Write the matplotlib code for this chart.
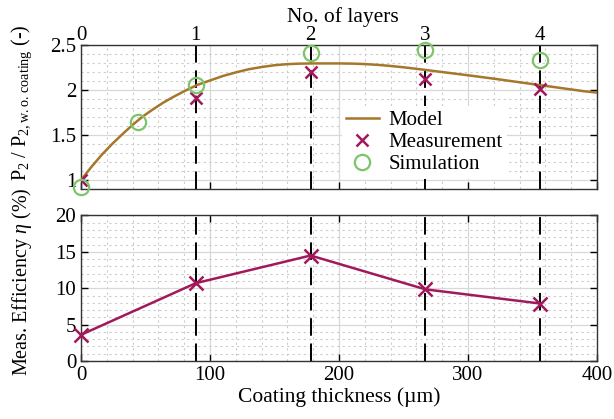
import matplotlib
matplotlib.use("Agg")
import matplotlib.pyplot as plt
from matplotlib.ticker import MultipleLocator

plt.rcParams['font.family'] = ['Liberation Serif', 'DejaVu Serif']
plt.rcParams['mathtext.fontset'] = 'custom'
plt.rcParams['mathtext.rm'] = 'Liberation Serif'
plt.rcParams['mathtext.it'] = 'Liberation Serif:italic'
plt.rcParams['font.size'] = 15

# ---- data ----
layer_thickness = [0, 89, 178, 267, 356]
layer_labels = ['0', '1', '2', '3', '4']

model_x = [0, 8, 16, 24, 32, 40, 48, 56, 64, 72, 80, 90, 100, 110, 120, 130, 140,
           150, 160, 170, 180, 190, 200, 210, 220, 230, 240, 250, 260, 270, 280,
           290, 300, 310, 320, 330, 340, 350, 360, 370, 380, 390, 400]
model_y = [1.0, 1.145, 1.28, 1.40, 1.51, 1.615, 1.71, 1.79, 1.865, 1.93, 1.99,
           2.06, 2.11, 2.16, 2.20, 2.235, 2.26, 2.28, 2.292, 2.298, 2.30, 2.30,
           2.30, 2.298, 2.293, 2.284, 2.272, 2.257, 2.24, 2.222, 2.204, 2.186,
           2.168, 2.149, 2.13, 2.11, 2.09, 2.07, 2.05, 2.03, 2.01, 1.99, 1.975]

meas_x = [0, 89, 178, 267, 356]
meas_ratio = [1.0, 1.92, 2.21, 2.13, 2.02]

sim_x = [0, 44, 89, 178, 267, 356]
sim_ratio = [0.92, 1.65, 2.06, 2.42, 2.45, 2.34]

meas_eff = [3.6, 10.7, 14.5, 9.85, 7.9]

c_model = '#A6772A'
c_meas = '#A2195B'
c_sim = '#7EC46A'

fig = plt.figure(figsize=(6.14, 4.19), dpi=100)
ax1 = fig.add_axes([81/614, 1-189/419, 516/614, (189-45.5)/419])
ax2 = fig.add_axes([81/614, 1-361/419, 516/614, (361-215.5)/419])

def style(ax):
    ax.set_xlim(0, 400)
    ax.xaxis.set_major_locator(MultipleLocator(100))
    ax.xaxis.set_minor_locator(MultipleLocator(20))
    ax.grid(True, which='major', color='#D8D8D8', lw=0.9, ls='-')
    ax.grid(True, which='minor', color='#CCCCCC', lw=0.8, ls=(0, (2, 3)))
    ax.set_axisbelow(True)
    ax.tick_params(which='major', direction='in', length=5, width=1.0,
                   top=True, right=True, labelsize=15)
    ax.tick_params(which='minor', length=0)
    for s in ax.spines.values():
        s.set_linewidth(1.0)
        s.set_color('#333333')
    for xv in layer_thickness[1:]:
        ax.axvline(xv, color='black', lw=1.4, dashes=(9, 4), zorder=1.5)

style(ax1)
style(ax2)

ax1.set_ylim(0.9, 2.5)
ax1.yaxis.set_minor_locator(MultipleLocator(0.1))
ax1.set_yticks([1, 1.5, 2, 2.5])
ax1.set_yticklabels(['1', '1.5', '2', '2.5'])
ax1.tick_params(labelbottom=False)

ax1.plot(model_x, model_y, color=c_model, lw=1.8, label='Model', zorder=3)
ax1.plot(meas_x, meas_ratio, ls='none', marker='x', ms=9, mew=1.8,
         color=c_meas, label='Measurement', zorder=4)
ax1.plot(sim_x, sim_ratio, ls='none', marker='o', ms=11, mfc='none', mew=1.6,
         mec=c_sim, label='Simulation', zorder=4, clip_on=False)

leg = ax1.legend(loc='upper left', bbox_to_anchor=(0.505, 0.575), frameon=True,
                 fontsize=15, handlelength=1.6, handletextpad=0.45,
                 borderpad=0.2, labelspacing=0.12, borderaxespad=0)
leg.get_frame().set_edgecolor('none')
leg.get_frame().set_facecolor('white')
leg.get_frame().set_alpha(1)
leg.set_zorder(5)

top = ax1.twiny()
top.set_xlim(ax1.get_xlim())
top.set_xticks(layer_thickness)
top.set_xticklabels(layer_labels)
top.tick_params(direction='in', length=0, labelsize=15, pad=0.5)
for s in top.spines.values():
    s.set_visible(False)
fig.text(343/614, 1-22/419, 'No. of layers', ha='center', va='baseline',
         fontsize=15.5)

ax2.set_ylim(0, 20)
ax2.yaxis.set_major_locator(MultipleLocator(5))
ax2.yaxis.set_minor_locator(MultipleLocator(1))
ax2.plot(meas_x, meas_eff, color=c_meas, lw=1.8, marker='x', ms=10, mew=1.8,
         zorder=4, clip_on=False)
ax2.set_xlabel('Coating thickness (µm)', fontsize=15.5, labelpad=2)

fig.text(0.036, 0.755, r'P$_2$ / P$_{2,\mathrm{w.o.\,coating}}$ (-)',
         rotation=90, ha='center', va='center', fontsize=14.5)
fig.text(0.036, 0.327, r'Meas. Efficiency $\eta$ (%)',
         rotation=90, ha='center', va='center', fontsize=14.5)

fig.savefig('out.png', dpi=100)
